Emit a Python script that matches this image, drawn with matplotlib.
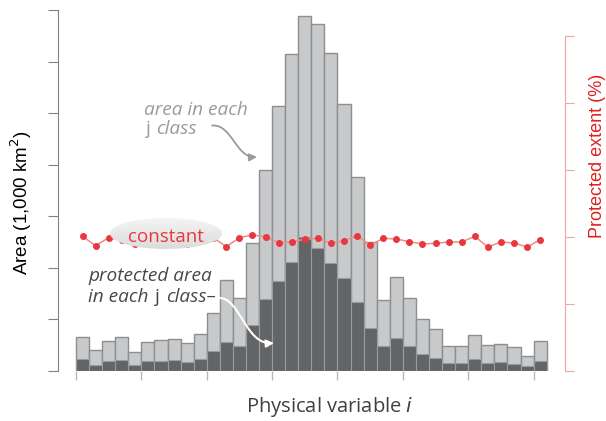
import numpy as np
import matplotlib.pyplot as plt
from matplotlib.patches import Ellipse, FancyArrowPatch
from matplotlib.path import Path
from matplotlib.transforms import Affine2D

# area in each class (1,000 km2) and protected part of it
area = [0.665, 0.40, 0.58, 0.66, 0.37, 0.57, 0.60, 0.615, 0.54, 0.71,
        1.12, 1.76, 1.41, 2.49, 3.90, 5.14, 6.14, 6.88, 6.73, 6.16,
        5.18, 3.76, 2.50, 1.37, 1.82, 1.42, 1.01, 0.815, 0.485, 0.485,
        0.70, 0.51, 0.52, 0.46, 0.30, 0.58]
protected = [0.227, 0.122, 0.194, 0.219, 0.122, 0.188, 0.20, 0.207, 0.175, 0.239,
             0.382, 0.568, 0.49, 0.898, 1.39, 1.75, 2.11, 2.60, 2.38, 2.10,
             1.80, 1.34, 0.83, 0.48, 0.63, 0.485, 0.32, 0.26, 0.155, 0.155,
             0.24, 0.155, 0.17, 0.14, 0.10, 0.19]
# protected extent (%)
extent = [20.1, 18.7, 19.9, 19.5, 19.0, 20.0, 19.2, 19.8, 19.0, 19.5,
          19.9, 18.55, 19.9, 20.3, 20.04, 19.15, 19.3, 19.67, 19.8, 19.06,
          19.45, 20.2, 18.8, 19.8, 19.7, 19.3, 18.96, 19.06, 19.25, 19.25,
          20.1, 18.5, 19.25, 19.1, 18.5, 19.6]

n = len(area)
left = np.arange(n)
centers = left + 0.5

W, H = 606, 421
fig = plt.figure(figsize=(W / 100, H / 100), dpi=100)
ax = fig.add_axes([0.0952, 0.1188, 0.8371, 0.8574])
# pixel coords (origin top-left) for the annotations
px = Affine2D().scale(1, -1).translate(0, H)

ax.bar(left, area, width=1, align='edge', color='#c8c9cb',
       edgecolor='#8d8e90', linewidth=1)
ax.bar(left, protected, width=1, align='edge', color='#636466',
       edgecolor='#9a9b9d', linewidth=0.8)
ax.set_xlim(-1.4, n + 1.4)
ax.set_ylim(0, 7)
for s in ['top', 'right', 'bottom']:
    ax.spines[s].set_visible(False)
ax.spines['left'].set_color('#808080')
ax.set_yticks(range(8))
ax.set_yticklabels([])
ax.set_xticks(range(0, n, 5))
ax.set_xticklabels([])
ax.tick_params(axis='y', length=7, color='#808080')
ax.tick_params(axis='x', length=6.5, width=1, color='#b8b8b8')

ax2 = ax.twinx()
ax2.set_ylim(0, 50 * 361 / 335)
ax2.plot(centers, extent, color='#f08a8a', lw=1.1, marker='o', ms=4,
         mfc='#e8383d', mec='#e8383d')
for s in ['top', 'left', 'bottom']:
    ax2.spines[s].set_visible(False)
ax2.spines['right'].set_color('#f4a3a3')
ax2.spines['right'].set_bounds(0, 50)
ax2.set_yticks(range(0, 51, 10))
ax2.set_yticklabels([])
ax2.tick_params(axis='y', length=6.5, color='#f4a3a3')

# axis labels
fig.text(21, 203, 'Area (1,000 km$^2$)', transform=px, rotation=90,
         ha='center', va='center', fontsize=13.5, family='Liberation Sans')
fig.text(597, 156, 'Protected extent (%)', transform=px, rotation=90,
         ha='center', va='center', fontsize=13, family='Liberation Sans',
         color='#e02020')
fig.text(330, 412, 'Physical variable $\\mathit{i}$', transform=px,
         ha='center', va='baseline', fontsize=14.5, family='Open Sans',
         color='#404040')

# "constant" bubble with a soft vertical gradient
ex, ey, ew, eh = 166, 233.5, 112, 31
bub = fig.add_axes([(ex - ew / 2) / W, 1 - (ey + eh / 2) / H, ew / W, eh / H])
bub.set_axis_off()
bub.set_zorder(5)
grad = np.linspace(0.96, 0.86, 64).reshape(-1, 1)
im = bub.imshow(grad, cmap='gray', vmin=0, vmax=1, aspect='auto',
                extent=[0, 1, 0, 1], origin='upper')
clip = Ellipse((0.5, 0.5), 1, 1, transform=bub.transAxes, facecolor='none',
               edgecolor='none')
bub.add_patch(clip)
im.set_clip_path(clip)
bub.text(0.5, 0.24, 'constant', transform=bub.transAxes, ha='center',
         va='baseline', fontsize=13.5, family='Open Sans', color='#e8383d')

# "area in each j class"
gray = '#9a9a9a'
fs = 13.7
fig.text(144, 115, 'area in each', transform=px, ha='left', va='baseline',
         fontsize=fs, family='Open Sans', style='italic', color=gray)
fig.text(146, 134, 'j', transform=px, ha='left', va='baseline',
         fontsize=fs, family='Open Sans', color=gray)
fig.text(156.5, 134, 'class', transform=px, ha='left', va='baseline',
         fontsize=fs, family='Open Sans', style='italic', color=gray)
p1 = Path([(212, 125.5), (232, 124), (236, 158), (257, 157)],
          [Path.MOVETO, Path.CURVE4, Path.CURVE4, Path.CURVE4])
fig.add_artist(FancyArrowPatch(path=p1, transform=px, arrowstyle='-|>',
                               mutation_scale=11, color=gray, lw=1.3))

# "protected area in each j class"
dark = '#474747'
fig.text(88, 281, 'protected area', transform=px, ha='left', va='baseline',
         fontsize=fs, family='Open Sans', style='italic', color=dark)
fig.text(88, 301.5, 'in each', transform=px, ha='left', va='baseline',
         fontsize=fs, family='Open Sans', style='italic', color=dark)
fig.text(155, 301.5, 'j', transform=px, ha='left', va='baseline',
         fontsize=fs, family='Open Sans', color=dark)
fig.text(166, 301.5, 'class\u2013', transform=px, ha='left', va='baseline',
         fontsize=fs, family='Open Sans', style='italic', color=dark)
p2 = Path([(218, 298), (240, 296), (245, 345), (274, 343)],
          [Path.MOVETO, Path.CURVE4, Path.CURVE4, Path.CURVE4])
fig.add_artist(FancyArrowPatch(path=p2, transform=px, arrowstyle='-|>',
                               mutation_scale=11, color='white', lw=1.5))

fig.savefig('out.png', dpi=100)
